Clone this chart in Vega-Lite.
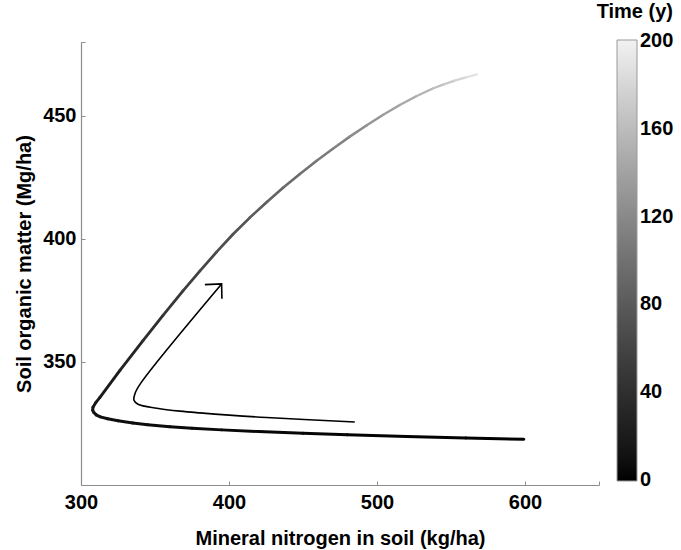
{
  "$schema": "https://vega.github.io/schema/vega-lite/v6.json",
  "width": 518,
  "height": 443,
  "autosize": {"type": "none"},
  "padding": {"left": 81, "top": 42, "right": 82, "bottom": 65},
  "config": {
    "font": "Liberation Sans",
    "view": {"stroke": null},
    "axis": {
      "grid": false,
      "domainColor": "#8c8c8c",
      "domainWidth": 1.2,
      "tickColor": "#8c8c8c",
      "tickSize": -4,
      "labelFlush": false,
      "labelFont": "Liberation Sans",
      "labelFontSize": 20,
      "labelFontWeight": "bold",
      "labelColor": "black",
      "titleFont": "Liberation Sans",
      "titleFontSize": 20,
      "titleFontWeight": "bold",
      "titleColor": "black"
    }
  },
  "datasets": {
    "traj": [
      {"t": 0, "n": 599.2, "s": 318.6},
      {"t": 0.8, "n": 560.0, "s": 319.1},
      {"t": 1.6, "n": 520.0, "s": 319.7},
      {"t": 2.4, "n": 480.0, "s": 320.4},
      {"t": 3.2, "n": 450.0, "s": 321.0},
      {"t": 4.0, "n": 420.0, "s": 321.7},
      {"t": 4.8, "n": 395.0, "s": 322.4},
      {"t": 5.6, "n": 375.0, "s": 323.1},
      {"t": 6.4, "n": 360.0, "s": 323.7},
      {"t": 7.2, "n": 345.0, "s": 324.5},
      {"t": 8.0, "n": 335.0, "s": 325.2},
      {"t": 8.8, "n": 325.0, "s": 326.1},
      {"t": 9.6, "n": 318.0, "s": 326.9},
      {"t": 10.4, "n": 313.0, "s": 327.7},
      {"t": 11.2, "n": 310.3, "s": 328.5},
      {"t": 12, "n": 308.6, "s": 329.5},
      {"t": 13, "n": 307.9, "s": 330.4},
      {"t": 14, "n": 308.1, "s": 331.6},
      {"t": 17, "n": 310.1, "s": 333.6},
      {"t": 20, "n": 312.8, "s": 335.6},
      {"t": 30, "n": 326.3, "s": 346.6},
      {"t": 40, "n": 341.9, "s": 358.7},
      {"t": 48, "n": 355.4, "s": 368.9},
      {"t": 56, "n": 368.9, "s": 378.9},
      {"t": 63, "n": 380.4, "s": 387.0},
      {"t": 69, "n": 391.5, "s": 394.6},
      {"t": 75, "n": 402.7, "s": 401.9},
      {"t": 82, "n": 414.1, "s": 408.65},
      {"t": 88, "n": 425.6, "s": 415.0},
      {"t": 95, "n": 436.7, "s": 420.9},
      {"t": 101, "n": 447.9, "s": 426.4},
      {"t": 108, "n": 459.0, "s": 431.65},
      {"t": 115, "n": 470.2, "s": 436.6},
      {"t": 122, "n": 481.6, "s": 441.55},
      {"t": 129, "n": 493.1, "s": 446.2},
      {"t": 137, "n": 504.2, "s": 450.45},
      {"t": 145, "n": 515.4, "s": 454.4},
      {"t": 153, "n": 526.5, "s": 457.95},
      {"t": 162, "n": 537.7, "s": 461.1},
      {"t": 170, "n": 545.1, "s": 462.8},
      {"t": 178, "n": 552.5, "s": 464.3},
      {"t": 188, "n": 560.0, "s": 465.6},
      {"t": 200, "n": 567.4, "s": 466.8}
    ],
    "arrow": [
      {"o": 1, "n": 485.0, "s": 325.6},
      {"o": 2, "n": 425.4, "s": 327.4},
      {"o": 3, "n": 380.4, "s": 329.3},
      {"o": 4, "n": 366.9, "s": 330.0},
      {"o": 5, "n": 351.3, "s": 331.2},
      {"o": 6, "n": 338.5, "s": 332.8},
      {"o": 7, "n": 335.8, "s": 334.4},
      {"o": 8, "n": 336.5, "s": 337.2},
      {"o": 9, "n": 340.5, "s": 341.5},
      {"o": 10, "n": 395.0, "s": 381.7}
    ],
    "head": [
      {"o": 1, "n": 383.7, "s": 381.4},
      {"o": 2, "n": 395.0, "s": 381.7},
      {"o": 3, "n": 395.2, "s": 375.7}
    ]
  },
  "layer": [
    {
      "data": {"name": "traj"},
      "transform": [
        {"window": [{"op": "lead", "field": "n", "as": "n2"}, {"op": "lead", "field": "s", "as": "s2"}], "sort": [{"field": "t", "order": "ascending"}]},
        {"filter": "datum.n2 != null"}
      ],
      "mark": {"type": "rule", "strokeCap": "round"},
      "encoding": {
        "x": {
          "field": "n", "type": "quantitative",
          "scale": {"domain": [300, 650], "nice": false, "zero": false},
          "axis": {"title": "Mineral nitrogen in soil (kg/ha)", "values": [300, 400, 500, 600, 650], "labelExpr": "datum.value == 650 ? '' : datum.label", "labelPadding": 11, "titlePadding": 16}
        },
        "y": {
          "field": "s", "type": "quantitative",
          "scale": {"domain": [300, 480], "nice": false, "zero": false},
          "axis": {"title": "Soil organic matter (Mg/ha)", "values": [350, 400, 450, 480], "labelExpr": "datum.value == 480 ? '' : datum.label", "labelPadding": 9, "titlePadding": 8}
        },
        "x2": {"field": "n2"},
        "y2": {"field": "s2"},
        "strokeWidth": {"field": "t", "type": "quantitative", "scale": {"domain": [0, 200], "range": [3, 2.2]}, "legend": null},
        "color": {
          "field": "t", "type": "quantitative",
          "scale": {"domain": [-0.4, 200.4], "range": ["#000000", "#f2f2f2"], "nice": false},
          "legend": {
            "title": "Time (y)",
            "orient": "none",
            "legendX": 516,
            "legendY": -40,
            "direction": "vertical",
            "gradientLength": 441,
            "gradientThickness": 20,
            "gradientStrokeColor": "#999999",
            "gradientStrokeWidth": 1,
            "values": [0, 40, 80, 120, 160, 200],
            "labelFont": "Liberation Sans",
            "labelFontSize": 20,
            "labelFontWeight": "bold",
            "labelColor": "black",
            "labelOffset": 3,
            "titleFont": "Liberation Sans",
            "titleFontSize": 20,
            "titleFontWeight": "bold",
            "titleColor": "black",
            "titlePadding": 18,
            "titleAnchor": "end"
          }
        }
      }
    },
    {
      "data": {"name": "arrow"},
      "mark": {"type": "line", "interpolate": "catmull-rom", "color": "black", "strokeWidth": 1.6},
      "encoding": {
        "x": {"field": "n", "type": "quantitative"},
        "y": {"field": "s", "type": "quantitative"},
        "order": {"field": "o"}
      }
    },
    {
      "data": {"name": "head"},
      "mark": {"type": "line", "color": "black", "strokeWidth": 1.6},
      "encoding": {
        "x": {"field": "n", "type": "quantitative"},
        "y": {"field": "s", "type": "quantitative"},
        "order": {"field": "o"}
      }
    }
  ]
}
